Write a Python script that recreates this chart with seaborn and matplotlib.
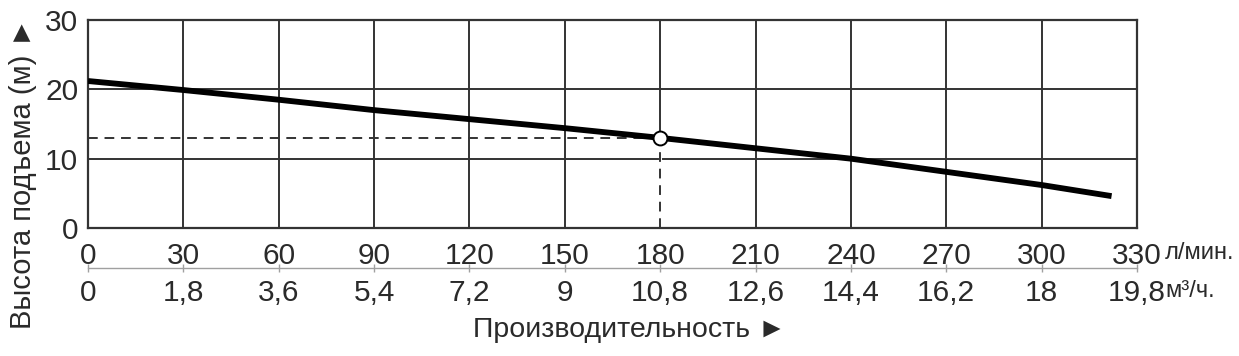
import numpy as np
import pandas as pd
import seaborn as sns
import matplotlib
matplotlib.use('Agg')
from matplotlib import pyplot as plt

# pump curve
flow_lpm = [0, 30, 60, 90, 120, 150, 180, 210, 240, 270, 300, 322]
head_m = [21.2, 19.9, 18.5, 17.0, 15.7, 14.4, 13.0, 11.5, 10.0, 8.1, 6.2, 4.6]

# operating point
op_flow = 180
op_head = 13.0

flow_ticks = [0, 30, 60, 90, 120, 150, 180, 210, 240, 270, 300, 330]
m3h_ticks = [0, 1.8, 3.6, 5.4, 7.2, 9, 10.8, 12.6, 14.4, 16.2, 18, 19.8]
head_ticks = [0, 10, 20, 30]

sns.set_style('white')
plt.rcParams['font.family'] = ['Liberation Sans', 'DejaVu Sans']

df = pd.DataFrame({'flow': flow_lpm, 'head': head_m})

fig = plt.figure(figsize=(12.39, 3.56), dpi=100)
ax = fig.add_axes([88 / 1239, 1 - 228 / 356, (1137 - 88) / 1239, 208 / 356])

grid_col = '#333333'
txt_col = '#2a2a2a'
ax.set_xlim(0, 330)
ax.set_ylim(0, 30)
ax.set_xticks(flow_ticks)
ax.set_xticklabels([str(t) for t in flow_ticks])
ax.set_yticks(head_ticks)
ax.set_yticklabels([str(t) for t in head_ticks])
ax.grid(True, color=grid_col, lw=1.4)
ax.set_axisbelow(True)
for s in ax.spines.values():
    s.set_color(grid_col)
    s.set_linewidth(1.6)
ax.tick_params(axis='x', length=0, pad=10, labelsize=21.5, colors=txt_col)
ax.tick_params(axis='y', length=0, pad=7, labelsize=21.5, colors=txt_col)

# dashed guides to the operating point (grid below the point is hidden)
ax.plot([op_flow, op_flow], [0, op_head], color='white', lw=2.2, zorder=2.5)
ax.plot([0, op_flow], [op_head, op_head], ls=(0, (5, 3.5)), color='#333333', lw=1.4, zorder=3)
ax.plot([op_flow, op_flow], [0, op_head], ls=(0, (5, 3.5)), color='#333333', lw=1.4, zorder=3)

sns.lineplot(data=df, x='flow', y='head', ax=ax, color='black', lw=4.2,
             solid_capstyle='butt', zorder=4)
ax.plot([op_flow], [op_head], 'o', ms=10, mfc='white', mec='black', mew=1.4, zorder=5)
ax.set_xlabel('')
ax.set_ylabel('')

# second scale in m3/h
sec = ax.secondary_xaxis(-0.192, functions=(lambda x: x * 0.06, lambda x: x / 0.06))
sec.set_xticks(m3h_ticks)
sec.set_xticklabels([('%g' % t).replace('.', ',') for t in m3h_ticks])
sec.spines['bottom'].set_color('#a0a0a0')
sec.spines['bottom'].set_linewidth(1.0)
sec.tick_params(axis='x', direction='inout', length=6, width=1, color='#a0a0a0',
                pad=5, labelsize=21.5, labelcolor=txt_col)

# units
fig.text(1165 / 1239, 1 - 253 / 356, 'л/мин.', fontsize=17, va='center', ha='left', color=txt_col)
fig.text(1165 / 1239, 1 - 291 / 356, 'м³/ч.', fontsize=17, va='center', ha='left', color=txt_col)

fig.text(630 / 1239, 1 - 330 / 356, 'Производительность ►', fontsize=20.5, ha='center', va='center',
         color=txt_col)
fig.text(23 / 1239, 1 - 173 / 356, 'Высота подъема (м) ►', fontsize=21, rotation=90,
         ha='center', va='center', color=txt_col)

fig.savefig('out.png', dpi=100)
